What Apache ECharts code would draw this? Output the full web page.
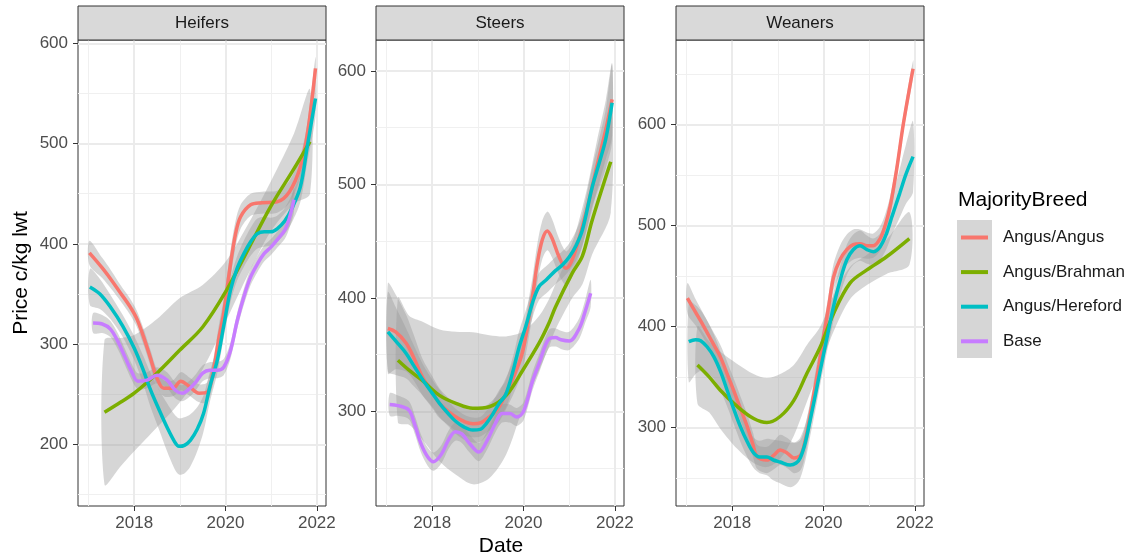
<!DOCTYPE html>
<html><head><meta charset="utf-8">
<script src="https://cdn.jsdelivr.net/npm/echarts@6/dist/echarts.min.js"></script>
<style>html,body{margin:0;padding:0;background:#fff}#c{width:1131px;height:558px}</style>
</head><body><div id="c"></div>
<script>
// ---------- categories / ticks ----------
const breeds = ['Angus/Angus', 'Angus/Brahman', 'Angus/Hereford', 'Base'];
const panels = ['Heifers', 'Steers', 'Weaners'];
const xTicks = [2018, 2020, 2022];
const xMinorTicks = [2017, 2019, 2021];
const yTicksHeifers = [200, 300, 400, 500, 600];
const yMinorHeifers = [150, 250, 350, 450, 550];
const yTicksSteers = [300, 400, 500, 600];
const yMinorSteers = [250, 350, 450, 550];
const yTicksWeaners = [300, 400, 500, 600];
const yMinorWeaners = [250, 350, 450, 550, 650];

// ---------- Heifers ----------
const heifersAAx = [2017.02, 2017.3, 2017.5, 2017.7, 2017.9, 2018.05, 2018.2, 2018.35, 2018.5, 2018.65, 2018.85, 2019.02, 2019.2, 2019.42, 2019.6, 2019.74, 2019.85, 2019.96, 2020.11, 2020.22, 2020.33, 2020.55, 2020.8, 2021.13, 2021.4, 2021.64, 2021.8, 2021.97];
const heifersAAy = [391, 376, 364, 351, 338, 326, 308, 287, 266, 256, 256, 263, 258, 251, 252, 275, 305, 331, 380, 410, 427, 439, 441, 442, 452, 477, 512, 575];
const heifersAAse = [12, 10, 9, 8, 8, 8, 8, 8, 8, 8, 8, 9, 9, 9, 10, 12, 13, 14, 14, 13, 12, 11, 11, 11, 11, 11, 11, 11];

const heifersABx = [2017.35, 2017.7, 2018.0, 2018.5, 2019.0, 2019.5, 2020.0, 2020.5, 2021.0, 2021.5, 2021.85];
const heifersABy = [232, 242, 251, 271, 294, 317, 352, 395, 438, 475, 502];
const heifersABse = [72, 64, 58, 54, 52, 42, 30, 25, 25, 35, 52];

const heifersAHx = [2017.03, 2017.25, 2017.48, 2017.75, 2018.0, 2018.2, 2018.36, 2018.55, 2018.72, 2018.88, 2018.98, 2019.1, 2019.23, 2019.38, 2019.52, 2019.66, 2019.82, 2019.96, 2020.11, 2020.25, 2020.4, 2020.55, 2020.69, 2020.85, 2020.99, 2021.13, 2021.3, 2021.45, 2021.64, 2021.79, 2021.97];
const heifersAHy = [357, 350, 337, 318, 296, 274, 254, 234, 217, 203, 198, 199, 204, 215, 231, 258, 284, 318, 354, 375, 390, 402, 410, 412, 412, 415, 423, 435, 457, 497, 545];
const heifersAHse = [18, 15, 12, 11, 12, 14, 17, 20, 24, 27, 28, 28, 26, 22, 18, 15, 13, 12, 12, 12, 13, 14, 15, 15, 14, 13, 13, 14, 15, 16, 18];

const heifersBAx = [2017.1, 2017.3, 2017.48, 2017.65, 2017.8, 2017.95, 2018.08, 2018.28, 2018.5, 2018.72, 2018.9, 2019.05, 2019.2, 2019.35, 2019.5, 2019.65, 2019.82, 2019.96, 2020.1, 2020.26, 2020.4, 2020.55, 2020.7, 2020.84, 2021.0, 2021.13, 2021.3, 2021.4, 2021.5];
const heifersBAy = [321, 320, 315, 302, 287, 272, 263, 264, 269, 264, 254, 251, 255, 262, 271, 274, 274, 277, 292, 324, 347, 367, 380, 390, 397, 404, 414, 426, 444];
const heifersBAse = [10, 9, 8, 8, 8, 8, 8, 8, 8, 8, 8, 8, 8, 8, 8, 8, 8, 8, 8, 8, 8, 8, 8, 8, 8, 8, 9, 10, 12];

// ---------- Steers ----------
const steersAAx = [2017.03, 2017.2, 2017.43, 2017.6, 2017.79, 2018.0, 2018.16, 2018.35, 2018.52, 2018.7, 2018.89, 2019.07, 2019.25, 2019.45, 2019.62, 2019.8, 2019.95, 2020.05, 2020.12, 2020.2, 2020.3, 2020.41, 2020.52, 2020.62, 2020.78, 2020.93, 2021.05, 2021.2, 2021.4, 2021.6, 2021.8, 2021.94];
const steersAAy = [373, 370, 360, 347, 330, 317, 307, 300, 295, 291, 289, 290, 295, 303, 316, 332, 348, 366, 383, 402, 430, 451, 459, 453, 436, 426, 432, 450, 480, 515, 548, 575];
const steersAAse = [40, 33, 25, 20, 16, 14, 13, 12, 12, 12, 12, 12, 12, 13, 14, 15, 16, 16, 17, 17, 17, 17, 17, 17, 16, 15, 15, 16, 18, 22, 26, 32];

const steersABx = [2017.25, 2017.5, 2017.79, 2018.16, 2018.52, 2018.89, 2019.25, 2019.62, 2019.98, 2020.34, 2020.56, 2020.7, 2021.07, 2021.29, 2021.5, 2021.91];
const steersABy = [345, 336, 327, 314, 307, 302.6, 304, 314, 336, 360, 378, 392, 422, 437, 468, 520];
const steersABse = [55, 48, 52, 58, 63, 67, 63, 52, 34, 24, 21, 20, 22, 25, 30, 45];

const steersAHx = [2017.03, 2017.2, 2017.43, 2017.6, 2017.79, 2018.0, 2018.16, 2018.35, 2018.52, 2018.7, 2018.89, 2019.05, 2019.18, 2019.32, 2019.47, 2019.6, 2019.69, 2019.8, 2019.9, 2020.05, 2020.2, 2020.34, 2020.5, 2020.7, 2020.85, 2021.0, 2021.15, 2021.29, 2021.5, 2021.65, 2021.8, 2021.94];
const steersAHy = [370, 362, 351, 340, 328, 316, 307, 298, 291, 286, 283.5, 284, 289, 297, 307, 314, 324, 340, 356, 375, 396, 410, 416, 424, 429, 436, 446, 460, 497, 518, 540, 572];
const steersAHse = [35, 30, 22, 18, 14, 12, 12, 11, 11, 11, 11, 11, 11, 11, 12, 12, 13, 13, 14, 14, 13, 12, 12, 12, 12, 12, 13, 14, 17, 21, 26, 34];

const steersBAx = [2017.07, 2017.25, 2017.49, 2017.62, 2017.75, 2017.9, 2018.03, 2018.2, 2018.36, 2018.51, 2018.65, 2018.81, 2019.02, 2019.2, 2019.38, 2019.53, 2019.7, 2019.85, 2020.0, 2020.2, 2020.34, 2020.56, 2020.7, 2020.82, 2021.0, 2021.22, 2021.35, 2021.47];
const steersBAy = [306, 305, 301, 288, 272, 260, 255.6, 262, 275, 282, 280, 272, 264, 274, 289, 298, 298, 295, 300, 327, 342, 364, 365, 363, 362, 373, 388, 404];
const steersBAse = [10, 9, 8, 8, 8, 8, 8, 8, 8, 8, 8, 8, 8, 8, 8, 8, 8, 8, 8, 8, 8, 8, 8, 8, 8, 9, 10, 12];

// ---------- Weaners ----------
const weanersAAx = [2017.02, 2017.2, 2017.38, 2017.56, 2017.74, 2017.9, 2018.03, 2018.18, 2018.33, 2018.45, 2018.55, 2018.76, 2018.92, 2019.05, 2019.2, 2019.35, 2019.48, 2019.56, 2019.68, 2019.78, 2019.9, 2020.0, 2020.12, 2020.22, 2020.36, 2020.51, 2020.65, 2020.8, 2020.95, 2021.09, 2021.24, 2021.35, 2021.46, 2021.6, 2021.75, 2021.96];
const weanersAAy = [428, 414, 400, 385, 370, 352, 337, 319, 301, 284, 271, 268, 273, 278, 275, 270, 272, 280, 305, 331, 362, 390, 422, 449, 466, 476, 481, 482, 480, 480, 487, 500, 519, 555, 601, 655];
const weanersAAse = [15, 13, 12, 12, 12, 12, 12, 12, 12, 12, 12, 13, 14, 15, 15, 15, 15, 15, 14, 13, 13, 12, 12, 13, 14, 15, 15, 14, 13, 12, 12, 11, 10, 9, 8, 8];

const weanersABx = [2017.24, 2017.5, 2017.74, 2018.11, 2018.47, 2018.76, 2019.05, 2019.35, 2019.64, 2019.93, 2020.22, 2020.58, 2020.95, 2021.38, 2021.88];
const weanersABy = [362, 350, 337, 321, 309, 305, 311, 327, 354, 380, 413, 443, 456, 469, 487];
const weanersABse = [38, 35, 38, 42, 44, 44, 42, 35, 28, 20, 18, 16, 15, 17, 26];

const weanersAHx = [2017.05, 2017.2, 2017.31, 2017.45, 2017.6, 2017.75, 2017.89, 2018.03, 2018.18, 2018.33, 2018.47, 2018.6, 2018.76, 2018.9, 2019.05, 2019.27, 2019.4, 2019.49, 2019.6, 2019.71, 2019.82, 2019.93, 2020.08, 2020.22, 2020.36, 2020.51, 2020.65, 2020.8, 2020.95, 2021.09, 2021.24, 2021.38, 2021.5, 2021.67, 2021.8, 2021.96];
const weanersAHy = [385, 387, 386, 380, 370, 355, 337, 319, 301, 286, 275, 271, 271, 268, 266, 263, 265, 270, 285, 308, 332, 357, 390, 420, 445, 466, 476, 480, 476, 474, 479, 492, 509, 532, 550, 568];
const weanersAHse = [40, 34, 30, 26, 22, 19, 16, 15, 15, 15, 15, 16, 18, 20, 21, 22, 21, 20, 18, 16, 15, 14, 14, 14, 14, 15, 15, 15, 14, 13, 13, 15, 18, 24, 29, 35];

// ---------- assembly ----------
const FONT = '"Liberation Sans", Arial, Helvetica, sans-serif';
const colors = {'Angus/Angus': '#F8766D', 'Angus/Brahman': '#7CAE00', 'Angus/Hereford': '#00BFC4', 'Base': '#C77CFF'};
const panelSeries = [
  [['Angus/Angus', heifersAAx, heifersAAy, heifersAAse], ['Angus/Brahman', heifersABx, heifersABy, heifersABse], ['Angus/Hereford', heifersAHx, heifersAHy, heifersAHse], ['Base', heifersBAx, heifersBAy, heifersBAse]],
  [['Angus/Angus', steersAAx, steersAAy, steersAAse], ['Angus/Brahman', steersABx, steersABy, steersABse], ['Angus/Hereford', steersAHx, steersAHy, steersAHse], ['Base', steersBAx, steersBAy, steersBAse]],
  [['Angus/Angus', weanersAAx, weanersAAy, weanersAAse], ['Angus/Brahman', weanersABx, weanersABy, weanersABse], ['Angus/Hereford', weanersAHx, weanersAHy, weanersAHse]]
];
const yRanges = [[138.5, 603.3], [216.5, 627.3], [222.5, 683.4]];
const yMajor = [yTicksHeifers, yTicksSteers, yTicksWeaners];
const yMinor = [yMinorHeifers, yMinorSteers, yMinorWeaners];
const xMin = 2016.77, xMax = 2022.2;
const lefts = [78, 376, 676];
const gridTop = 40, gridH = 466, gridW = 248;
const SM = 0.35;
const fmt = v => String(v);

const grid = lefts.map(l => ({left: l, top: gridTop, width: gridW, height: gridH, show: true,
  borderColor: '#333333', borderWidth: 1, backgroundColor: 'rgba(0,0,0,0)'}));

const xAxis = [], yAxis = [];
lefts.forEach((l, p) => {
  xAxis.push({type: 'value', gridIndex: p, min: xMin, max: xMax, position: 'bottom',
    axisLine: {show: false},
    axisTick: {show: true, customValues: xTicks, length: 5, lineStyle: {color: '#333333', width: 1}},
    axisLabel: {show: true, customValues: xTicks, formatter: fmt, margin: 9, fontSize: 17, color: '#4d4d4d', fontFamily: FONT},
    splitLine: {show: true, lineStyle: {color: '#ebebeb', width: 2}}});
  xAxis.push({type: 'value', gridIndex: p, min: xMin, max: xMax, position: 'bottom',
    axisLine: {show: false},
    axisTick: {show: false, customValues: xMinorTicks},
    axisLabel: {show: false, customValues: xMinorTicks, formatter: fmt},
    splitLine: {show: true, lineStyle: {color: '#f0f0f0', width: 1}}});
  yAxis.push({type: 'value', gridIndex: p, min: yRanges[p][0], max: yRanges[p][1], position: 'left',
    axisLine: {show: false},
    axisTick: {show: true, customValues: yMajor[p], length: 5, lineStyle: {color: '#333333', width: 1}},
    axisLabel: {show: true, customValues: yMajor[p], formatter: fmt, margin: 10, fontSize: 17, color: '#4d4d4d', fontFamily: FONT},
    splitLine: {show: true, lineStyle: {color: '#ebebeb', width: 2}}});
  yAxis.push({type: 'value', gridIndex: p, min: yRanges[p][0], max: yRanges[p][1], position: 'left',
    axisLine: {show: false},
    axisTick: {show: false, customValues: yMinor[p]},
    axisLabel: {show: false, customValues: yMinor[p], formatter: fmt},
    splitLine: {show: true, lineStyle: {color: '#f0f0f0', width: 1}}});
});

// confidence ribbon: one smoothed polygon built from all items through api.coord
function renderBand(params, api) {
  if (params.dataIndexInside !== 0) return null;
  const n = params.dataInsideLength;
  const upper = [], lower = [];
  for (let i = 0; i < n; i++) {
    const x = api.value(0, i);
    upper.push(api.coord([x, api.value(2, i)]));
    lower.push(api.coord([x, api.value(1, i)]));
  }
  const pts = upper.concat(lower.reverse());
  const cs = params.coordSys;
  return {
    type: 'polygon',
    shape: {points: pts, smooth: 0.3},
    style: {fill: 'rgba(153,153,153,0.4)', stroke: null},
    clipPath: {type: 'rect', shape: {x: cs.x, y: cs.y, width: cs.width, height: cs.height}},
    silent: true
  };
}

const series = [];
panelSeries.forEach((list, p) => {
  list.forEach(([name, xs, ys, se]) => {
    series.push({type: 'custom', name: name + ' ci', xAxisIndex: 2 * p, yAxisIndex: 2 * p,
      coordinateSystem: 'cartesian2d', renderItem: renderBand, silent: true,
      encode: {x: 0, y: [1, 2]},
      data: xs.map((x, i) => [x, ys[i] - se[i], ys[i] + se[i]]), z: 2});
    series.push({type: 'line', name: name, xAxisIndex: 2 * p, yAxisIndex: 2 * p,
      data: xs.map((x, i) => [x, ys[i]]), smooth: SM, symbol: 'none', silent: true,
      itemStyle: {color: colors[name]}, lineStyle: {color: colors[name], width: 3.5},
      emphasis: {disabled: true}, z: 2});
  });
});

const graphics = [];
panels.forEach((name, p) => {
  graphics.push({type: 'rect', shape: {x: lefts[p], y: 6, width: gridW, height: gridTop - 6},
    style: {fill: '#d9d9d9', stroke: '#333333', lineWidth: 1}, z: 5});
  graphics.push({type: 'text', x: lefts[p] + gridW / 2, y: 23,
    style: {text: name, fontSize: 17, fill: '#1a1a1a', fontFamily: FONT, align: 'center', verticalAlign: 'middle', textAlign: 'center', textVerticalAlign: 'middle'}, z: 6});
});
graphics.push({type: 'text', x: 21, y: 273, rotation: Math.PI / 2,
  style: {text: 'Price c/kg lwt', fontSize: 21, fill: '#000', fontFamily: FONT, align: 'center', verticalAlign: 'middle', textAlign: 'center', textVerticalAlign: 'middle'}, z: 6});
graphics.push({type: 'text', x: 501, y: 546,
  style: {text: 'Date', fontSize: 21, fill: '#000', fontFamily: FONT, align: 'center', verticalAlign: 'middle', textAlign: 'center', textVerticalAlign: 'middle'}, z: 6});
graphics.push({type: 'text', x: 958, y: 200,
  style: {text: 'MajorityBreed', fontSize: 21, fill: '#000', fontFamily: FONT, align: 'left', verticalAlign: 'middle', textAlign: 'left', textVerticalAlign: 'middle'}, z: 6});
graphics.push({type: 'rect', shape: {x: 957, y: 220, width: 35, height: 138},
  style: {fill: '#d6d6d6'}, z: 1});

const chart = echarts.init(document.getElementById('c'));
chart.setOption({
  animation: false,
  backgroundColor: '#ffffff',
  grid, xAxis, yAxis, series,
  legend: {orient: 'vertical', left: 961, top: 229, itemWidth: 27, itemHeight: 4, itemGap: 17.6,
    padding: 0, icon: 'rect', data: breeds, z: 10, selectedMode: false,
    textStyle: {fontSize: 17, color: '#1a1a1a', fontFamily: FONT, lineHeight: 17, padding: [0, 0, 0, 10]}},
  graphic: {elements: graphics}
});
</script></body></html>
